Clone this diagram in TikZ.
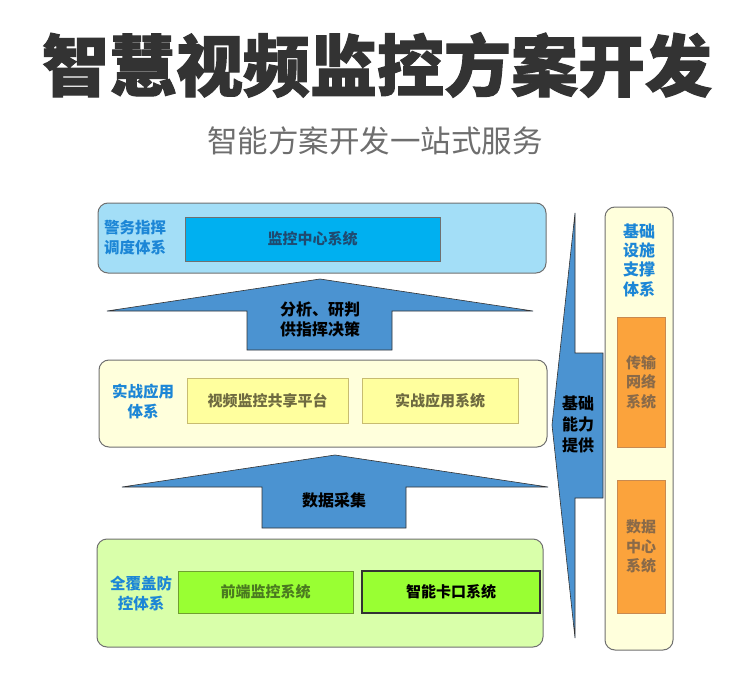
\documentclass[tikz,border=0pt]{standalone}
\usepackage{fontspec}
\newfontfamily\cjk{Noto Sans CJK SC}
\newfontfamily\cjkheavy{Noto Sans CJK SC}[BoldFeatures={FakeBold=1.6}]
\definecolor{titlegray}{HTML}{333333}
\definecolor{subgray}{HTML}{6E6E6E}
\definecolor{lblblue}{HTML}{1C86D6}
\definecolor{topfill}{HTML}{A3DEF7}
\definecolor{cyanfill}{HTML}{00B0F0}
\definecolor{cyantext}{HTML}{1F4A70}
\definecolor{creamfill}{HTML}{FFFFDC}
\definecolor{yelfill}{HTML}{FFFF9E}
\definecolor{yelborder}{HTML}{C8BC70}
\definecolor{yeltext}{HTML}{6E6A40}
\definecolor{greenfill}{HTML}{D9FFAA}
\definecolor{limefill}{HTML}{99FF33}
\definecolor{limeborder}{HTML}{6FA030}
\definecolor{limetext}{HTML}{4A7A20}
\definecolor{orangefill}{HTML}{FBA33C}
\definecolor{orangeborder}{HTML}{C88A50}
\definecolor{orangetext}{HTML}{8A6A48}
\definecolor{arrowblue}{HTML}{4B93D1}
\definecolor{outline}{HTML}{707070}
\tikzset{
  panel/.style={draw=outline, line width=1pt, rounded corners=10pt, inner sep=0pt},
  subbox/.style={draw, line width=0.8pt, inner sep=0pt, font=\cjk\bfseries\fontsize{15}{19}\selectfont, align=center},
  lbl/.style={font=\cjk\bfseries\fontsize{15.5}{20}\selectfont, text=lblblue, align=center, inner sep=0pt},
  arrowtxt/.style={font=\cjk\bfseries\fontsize{16}{20}\selectfont, text=black, align=center, inner sep=0pt},
  bigarrow/.style={fill=arrowblue, draw=titlegray, line width=0.6pt, line join=miter}
}
\begin{document}
\begin{tikzpicture}[x=1pt,y=-1pt]
\useasboundingbox[fill=white] (0,0) rectangle (750,685);
% titles
\node[font=\cjkheavy\bfseries\fontsize{67}{72}\selectfont, text=titlegray, inner sep=0pt] (title) at (377,65) {智慧视频监控方案开发};
\node[font=\cjk\fontsize{30.5}{34}\selectfont, text=subgray, inner sep=0pt] (subtitle) at (375,141) {智能方案开发一站式服务};
% top panel
\node[panel, fill=topfill, minimum width=448pt, minimum height=70pt] (toppanel) at (322,238) {};
\node[subbox, fill=cyanfill, draw=outline, text=cyantext, minimum width=255pt, minimum height=44pt] (center) at (312.5,239) {监控中心系统};
\node[lbl] (toplbl) at (135,238) {警务指挥\\调度体系};
% arrow 1
\draw[bigarrow] (247,350) -- (247,311) -- (107,311) -- (320,279) -- (533,311) -- (392,311) -- (392,350) -- cycle;
\node[arrowtxt] (a1txt) at (320,319) {分析、研判\\供指挥决策};
% middle panel
\node[panel, fill=creamfill, minimum width=448pt, minimum height=87pt] (midpanel) at (323,403.5) {};
\node[subbox, fill=yelfill, draw=yelborder, text=yeltext, minimum width=161pt, minimum height=45pt] (share) at (267.5,400.5) {视频监控共享平台};
\node[subbox, fill=yelfill, draw=yelborder, text=yeltext, minimum width=156pt, minimum height=45pt] (apps) at (440,400.5) {实战应用系统};
\node[lbl] (midlbl) at (143,401) {实战应用\\体系};
% arrow 2
\draw[bigarrow] (262,528) -- (262,487) -- (122,487) -- (335,455) -- (548,487) -- (406,487) -- (406,528) -- cycle;
\node[arrowtxt] (a2txt) at (334,500) {数据采集};
% bottom panel
\node[panel, fill=greenfill, minimum width=446pt, minimum height=108pt] (botpanel) at (320,593) {};
\node[subbox, fill=limefill, draw=limeborder, text=limetext, minimum width=175pt, minimum height=42pt] (front) at (265.5,592) {前端监控系统};
\node[subbox, fill=limefill, draw=titlegray, text=black, line width=1.2pt, minimum width=178pt, minimum height=42pt] (gate) at (451,592) {智能卡口系统};
\node[lbl] (botlbl) at (141,594) {全覆盖防\\控体系};
% arrow 3
\draw[bigarrow] (603,353) -- (575,353) -- (575,213) -- (552,425) -- (575,638) -- (575,498) -- (603,498) -- cycle;
\node[arrowtxt, font=\cjk\bfseries\fontsize{16}{21}\selectfont] (a3txt) at (578,424) {基础\\能力\\提供};
% right column
\node[panel, fill=creamfill, minimum width=68pt, minimum height=443pt] (rightpanel) at (639,428.5) {};
\node[lbl, font=\cjk\bfseries\fontsize{16}{19.3}\selectfont] (rightlbl) at (639,260) {基础\\设施\\支撑\\体系};
\node[subbox, fill=orangefill, draw=orangeborder, text=orangetext, font=\cjk\bfseries\fontsize{15}{19.5}\selectfont, minimum width=48pt, minimum height=130pt] (trans) at (641,382) {传输\\网络\\系统};
\node[subbox, fill=orangefill, draw=orangeborder, text=orangetext, font=\cjk\bfseries\fontsize{15}{19.5}\selectfont, minimum width=48pt, minimum height=133pt] (data) at (641,546.5) {数据\\中心\\系统};
\end{tikzpicture}
\end{document}
